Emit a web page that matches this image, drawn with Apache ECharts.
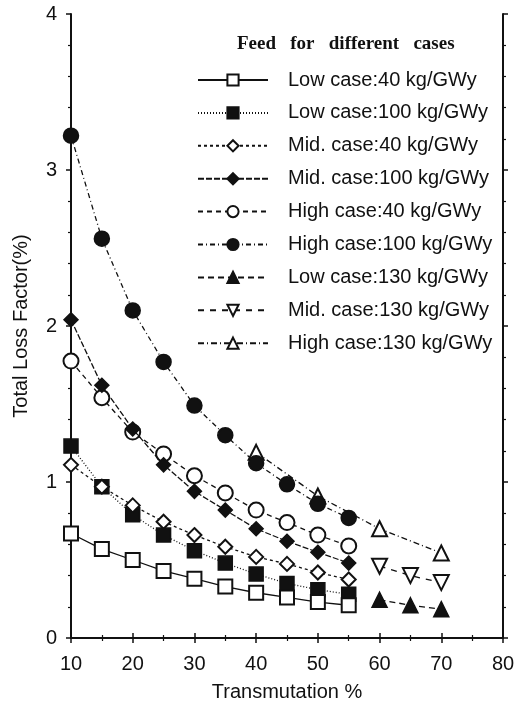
<!DOCTYPE html>
<html>
<head>
<meta charset="utf-8">
<script src="https://cdn.jsdelivr.net/npm/echarts@6/dist/echarts.min.js"></script>
<style>
  html, body { margin: 0; padding: 0; background: #fff; }
  #chart { width: 519px; height: 706px; }
</style>
</head>
<body>
<div id="chart"></div>
<script>
// transmutation (%) for each group of cases
var xLow = [10, 15, 20, 25, 30, 35, 40, 45, 50, 55];
var x130 = [60, 65, 70];
var xHigh130 = [40, 50, 60, 70];

// total loss factor (%)
var low40 = [0.67, 0.57, 0.50, 0.43, 0.38, 0.33, 0.29, 0.26, 0.23, 0.21];
var low100 = [1.23, 0.97, 0.79, 0.66, 0.56, 0.48, 0.41, 0.35, 0.31, 0.28];
var mid40 = [1.11, 0.97, 0.85, 0.745, 0.66, 0.585, 0.52, 0.475, 0.42, 0.375];
var mid100 = [2.04, 1.62, 1.34, 1.11, 0.94, 0.82, 0.70, 0.62, 0.55, 0.48];
var high40 = [1.775, 1.54, 1.32, 1.18, 1.04, 0.93, 0.82, 0.74, 0.66, 0.59];
var high100 = [3.22, 2.56, 2.10, 1.77, 1.49, 1.30, 1.12, 0.985, 0.86, 0.77];
var low130 = [0.245, 0.21, 0.185];
var mid130 = [0.46, 0.40, 0.355];
var high130 = [1.19, 0.91, 0.70, 0.545];

var names = [
  "Low case:40 kg/GWy",
  "Low case:100 kg/GWy",
  "Mid. case:40 kg/GWy",
  "Mid. case:100 kg/GWy",
  "High case:40 kg/GWy",
  "High case:100 kg/GWy",
  "Low case:130 kg/GWy",
  "Mid. case:130 kg/GWy",
  "High case:130 kg/GWy"
];

function pairs(xs, ys) {
  return xs.map(function (x, i) { return [x, ys[i]]; });
}

var ink = "#111";
var font = "Liberation Sans";

function makeSeries(name, xs, ys, symbol, size, dash, z, rotate) {
  return {
    name: name,
    type: "line",
    data: pairs(xs, ys),
    symbol: symbol,
    symbolSize: size,
    symbolRotate: rotate || 0,
    z: z,
    lineStyle: { color: ink, width: 1.3, type: dash },
    itemStyle: { color: ink, borderColor: ink, borderWidth: 1.5 },
    emphasis: { disabled: true }
  };
}

var series = [
  makeSeries(names[1], xLow, low100, "rect", 14, [1, 2], 3),
  makeSeries(names[0], xLow, low40, "emptyRect", 14, "solid", 4),
  makeSeries(names[2], xLow, mid40, "emptyDiamond", 14, [3, 3], 5),
  makeSeries(names[3], xLow, mid100, "diamond", 14, [6, 2], 6),
  makeSeries(names[4], xLow, high40, "emptyCircle", 15, [5, 4], 5),
  makeSeries(names[5], xLow, high100, "circle", 15, [5, 3, 1, 3], 6),
  makeSeries(names[6], x130, low130, "triangle", 15, [6, 4], 5),
  makeSeries(names[7], x130, mid130, "emptyTriangle", 15, [6, 6], 5, 180),
  makeSeries(names[8], xHigh130, high130, "emptyTriangle", 15, [6, 3, 1, 3], 4)
];

var axisLine = { show: true, lineStyle: { color: ink, width: 2 } };
var tick = { show: true, inside: false, length: 5, lineStyle: { color: ink, width: 1.5 } };
var minor = { show: true, length: 3, lineStyle: { color: ink, width: 1.2 } };

var chart = echarts.init(document.getElementById("chart"));
chart.setOption({
  animation: false,
  backgroundColor: "#fff",
  grid: { left: 71, right: 16, top: 14, bottom: 68, containLabel: false, outerBoundsMode: "none" },
  title: {
    text: "Feed   for   different   cases",
    left: 232,
    top: 30,
    textStyle: { fontFamily: "Liberation Serif", fontWeight: "bold", fontSize: 19, color: ink }
  },
  legend: {
    data: names,
    orient: "vertical",
    left: 192,
    top: 65,
    itemWidth: 70,
    itemHeight: 14,
    itemGap: 12.9,
    selectedMode: false,
    textStyle: { fontFamily: font, fontSize: 20, color: ink, padding: [0, 0, 0, 15] }
  },
  xAxis: [
    {
      type: "value", min: 10, max: 80, interval: 10,
      name: "Transmutation %", nameLocation: "middle", nameGap: 44,
      nameTextStyle: { fontFamily: font, fontSize: 20, color: ink },
      axisLine: axisLine, axisTick: tick,
      minorTick: Object.assign({ splitNumber: 2 }, minor),
      axisLabel: { fontFamily: font, fontSize: 20, color: ink, margin: 16 },
      splitLine: { show: false }
    },
    {
      type: "value", position: "top", min: 10, max: 80, interval: 10,
      axisLine: axisLine, axisTick: tick,
      minorTick: Object.assign({ splitNumber: 2 }, minor),
      axisLabel: { show: false }, splitLine: { show: false }
    }
  ],
  yAxis: [
    {
      type: "value", min: 0, max: 4, interval: 1,
      name: "Total Loss Factor(%)", nameLocation: "middle", nameGap: 40,
      nameTextStyle: { fontFamily: font, fontSize: 20, color: ink },
      axisLine: axisLine, axisTick: tick,
      minorTick: Object.assign({ splitNumber: 5 }, minor),
      axisLabel: { fontFamily: font, fontSize: 20, color: ink, margin: 14 },
      splitLine: { show: false }
    },
    {
      type: "value", position: "right", min: 0, max: 4, interval: 1,
      axisLine: axisLine, axisTick: tick,
      minorTick: Object.assign({ splitNumber: 5 }, minor),
      axisLabel: { show: false }, splitLine: { show: false }
    }
  ],
  series: series
});
</script>
</body>
</html>
